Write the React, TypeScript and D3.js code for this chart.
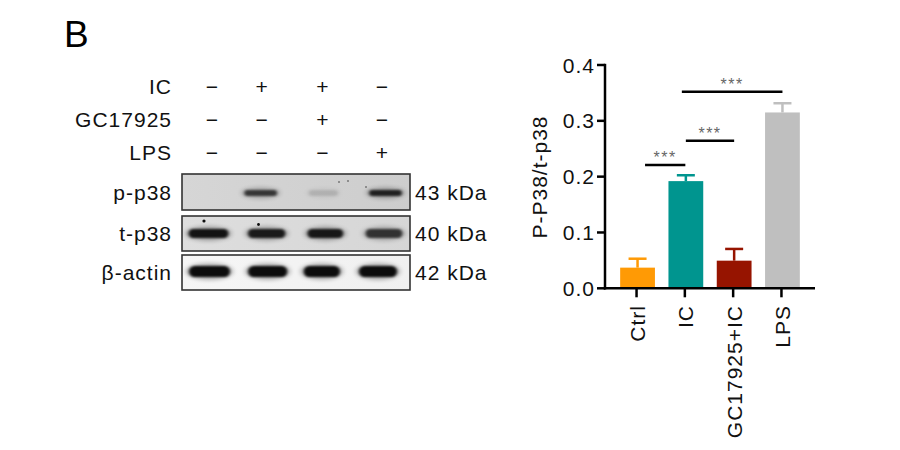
import React from "react";
import * as d3 from "d3";

// ---- Bar chart data ----
const categories = ["Ctrl", "IC", "GC17925+IC", "LPS"];
const means = [0.037, 0.192, 0.0495, 0.315];
const errors = [0.016, 0.0105, 0.021, 0.0165];
const barColors = ["#FF9A05", "#00958F", "#961400", "#BFBFBF"];
const yTicks = [0.0, 0.1, 0.2, 0.3, 0.4];
// significance brackets: [fromIndex, toIndex, yValue]
const comparisons: [number, number, number][] = [
  [0, 1, 0.221],
  [1, 2, 0.2645],
  [1, 3, 0.352],
];

// ---- Blot data ----
const lanes = ["L1", "L2", "L3", "L4"];
const treatRows = ["IC", "GC17925", "LPS"];
const treatments = [
  ["−", "+", "+", "−"],
  ["−", "−", "+", "−"],
  ["−", "−", "−", "+"],
];
const blotRows = ["p-p38", "t-p38", "β-actin"];
const blotMW = ["43 kDa", "40 kDa", "42 kDa"];
// band intensity (0..1) per lane per row
const bandIntensity = [
  [0.0, 0.72, 0.12, 0.85],
  [0.95, 0.9, 0.92, 0.75],
  [1.0, 1.0, 1.0, 1.0],
];
// band width (relative to lane step) per lane per row
const bandWidth = [
  [0.6, 0.66, 0.6, 0.66],
  [0.78, 0.74, 0.71, 0.73],
  [0.8, 0.77, 0.72, 0.75],
];
const bandShift = [
  [0, -6, -2, 1.5],
  [0.5, 0, 0, 0],
  [1.5, 1, -3.5, -6],
];

const FONT = "'Liberation Sans', Arial, Helvetica, sans-serif";
const FS = 21;
const LS = 1;

export default function App() {
  const W = 900;
  const H = 450;

  // bar chart scales
  const x = d3
    .scaleBand<string>()
    .domain(categories)
    .range([613.4, 806.6])
    .paddingInner(0.28)
    .paddingOuter(0.14);
  const y = d3.scaleLinear().domain([0, 0.4]).range([288.3, 65]);
  const axisX = 605;
  const cx = (i: number) => (x(categories[i]) as number) + x.bandwidth() / 2;

  // blot scales
  const laneX = d3.scalePoint<string>().domain(lanes).range([208, 384]);
  const laneStep = 58.5;
  const rowY = d3.scalePoint<string>().domain(treatRows).range([94, 160]);
  const boxes = [
    { y0: 174, y1: 210, bg: ["#cdcdcd", "#d6d6d6"], cy: 193 },
    { y0: 216, y1: 251, bg: ["#d6d6d6", "#dedede"], cy: 233.5 },
    { y0: 255, y1: 290, bg: ["#f0f0f0", "#f6f6f6"], cy: 271.5 },
  ];
  const bandHeights = [6, 9, 11];

  return (
    <svg width={W} height={H} style={{ display: "block", position: "absolute", left: 0, top: 0 }} fontFamily={FONT}>
      <defs>
        <filter id="blur1" x="-30%" y="-100%" width="160%" height="300%">
          <feGaussianBlur stdDeviation="2.4 2" />
        </filter>
        <filter id="blur2" x="-30%" y="-100%" width="160%" height="300%">
          <feGaussianBlur stdDeviation="1.8 1.3" />
        </filter>
        <filter id="blur3" x="-100%" y="-100%" width="300%" height="300%">
          <feGaussianBlur stdDeviation="0.6" />
        </filter>
        {boxes.map((b, i) => (
          <linearGradient key={i} id={`bg${i}`} x1="0" y1="0" x2="1" y2="0">
            <stop offset="0" stopColor={b.bg[1]} />
            <stop offset="1" stopColor={b.bg[0]} />
          </linearGradient>
        ))}
        {boxes.map((b, i) => (
          <clipPath key={i} id={`clip${i}`}>
            <rect x={182} y={b.y0} width={228} height={b.y1 - b.y0} />
          </clipPath>
        ))}
      </defs>
      <rect width={W} height={H} fill="#fff" />

      {/* Panel letter */}
      <text x={64} y={47} fontSize={37} fill="#000">B</text>

      {/* Treatment rows */}
      {treatRows.map((r, ri) => (
        <g key={r}>
          <text x={172} y={rowY(r)} fontSize={FS} letterSpacing={LS} textAnchor="end" fill="#111">
            {r}
          </text>
          {treatments[ri].map((s, li) => (
            <text
              key={li}
              x={(laneX(lanes[li]) as number) + (li === 1 ? -5 : li === 0 ? 4 : li === 2 ? -3 : -2)}
              y={rowY(r) as number}
              fontSize={FS}
              textAnchor="middle"
              fill="#111"
            >
              {s}
            </text>
          ))}
        </g>
      ))}

      {/* Blot boxes */}
      {boxes.map((b, bi) => (
        <g key={bi}>
          <rect x={182} y={b.y0} width={228} height={b.y1 - b.y0} fill={`url(#bg${bi})`} />
          <g clipPath={`url(#clip${bi})`}>
            {lanes.map((l, li) => {
              const inten = bandIntensity[bi][li];
              if (inten <= 0) return null;
              const bw = bandWidth[bi][li] * laneStep;
              const c = (laneX(l) as number) + bandShift[bi][li];
              const cy = b.cy;
              const h = bandHeights[bi];
              return (
                <g key={li}>
                  <ellipse
                    cx={c}
                    cy={cy}
                    rx={bw / 2}
                    ry={h / 2 + 2.5}
                    fill="#000"
                    opacity={inten * 0.33}
                    filter="url(#blur1)"
                  />
                  <rect
                    x={c - bw / 2 + 3}
                    y={cy - h / 2}
                    width={bw - 6}
                    height={h}
                    rx={h / 2}
                    fill="#000"
                    opacity={inten * 0.92}
                    filter="url(#blur2)"
                  />
                </g>
              );
            })}
            {bi === 1 && (
              <g filter="url(#blur3)" fill="#111">
                <circle cx={204} cy={221} r={1.6} />
                <circle cx={258.5} cy={224.5} r={1.4} />
              </g>
            )}
            {bi === 0 && (
              <g filter="url(#blur3)" fill="#777">
                <circle cx={339} cy={182} r={1} />
                <circle cx={348} cy={181} r={1} />
                <circle cx={366} cy={187} r={1} />
              </g>
            )}
          </g>
          <rect
            x={182}
            y={b.y0}
            width={228}
            height={b.y1 - b.y0}
            fill="none"
            stroke="#333"
            strokeWidth={1.6}
          />
          <text x={172} y={(b.y0 + b.y1) / 2 + 7.5} fontSize={FS} letterSpacing={LS} textAnchor="end" fill="#111">
            {blotRows[bi]}
          </text>
          <text x={415} y={(b.y0 + b.y1) / 2 + 7.5} fontSize={FS} letterSpacing={LS} fill="#111">
            {blotMW[bi]}
          </text>
        </g>
      ))}

      {/* Bar chart */}
      <g>
        {categories.map((c, i) => (
          <g key={c}>
            <rect
              x={x(c)}
              y={y(means[i])}
              width={x.bandwidth()}
              height={y(0) - y(means[i])}
              fill={barColors[i]}
            />
            <line
              x1={cx(i)}
              x2={cx(i)}
              y1={y(means[i])}
              y2={y(means[i] + errors[i])}
              stroke={barColors[i]}
              strokeWidth={2.5}
            />
            <line
              x1={cx(i) - 9}
              x2={cx(i) + 9}
              y1={y(means[i] + errors[i])}
              y2={y(means[i] + errors[i])}
              stroke={barColors[i]}
              strokeWidth={2.5}
            />
          </g>
        ))}

        {/* axes */}
        <line x1={axisX} x2={axisX} y1={y(0.4) - 1.2} y2={y(0) + 1.2} stroke="#000" strokeWidth={2.5} />
        <line x1={axisX - 1.2} x2={815} y1={y(0)} y2={y(0)} stroke="#000" strokeWidth={2.5} />
        {yTicks.map((t) => (
          <g key={t}>
            <line x1={axisX - 8} x2={axisX} y1={y(t)} y2={y(t)} stroke="#000" strokeWidth={2.5} />
            <text x={axisX - 10} y={y(t) + 7.5} fontSize={FS} letterSpacing={LS} textAnchor="end" fill="#111">
              {t.toFixed(1)}
            </text>
          </g>
        ))}
        {categories.map((c, i) => (
          <g key={c}>
            <line x1={cx(i) - 1} x2={cx(i) - 1} y1={y(0)} y2={y(0) + 9} stroke="#000" strokeWidth={2.5} />
            <text
              transform={`translate(${cx(i) + 7.5},305) rotate(-90)`}
              fontSize={FS}
              letterSpacing={LS}
              textAnchor="end"
              fill="#111"
            >
              {c}
            </text>
          </g>
        ))}
        <text
          transform={`translate(547,177) rotate(-90)`}
          fontSize={FS}
          letterSpacing={LS}
          textAnchor="middle"
          fill="#111"
        >
          P-P38/t-p38
        </text>

        {/* significance */}
        {comparisons.map(([a, b, v], k) => {
          const x1 = cx(a) + (k === 0 ? 7.5 : k === 2 ? -4 : 0);
          const x2 = cx(b) + (k === 0 ? -0.5 : 0);
          return (
            <g key={k}>
              <line x1={x1} x2={x2} y1={y(v)} y2={y(v)} stroke="#000" strokeWidth={2.5} />
              <text
                x={(x1 + x2) / 2}
                y={y(v) - 1.5}
                fontSize={16}
                letterSpacing={1.5}
                textAnchor="middle"
                fill="#666"
              >
                ***
              </text>
            </g>
          );
        })}
      </g>
    </svg>
  );
}
